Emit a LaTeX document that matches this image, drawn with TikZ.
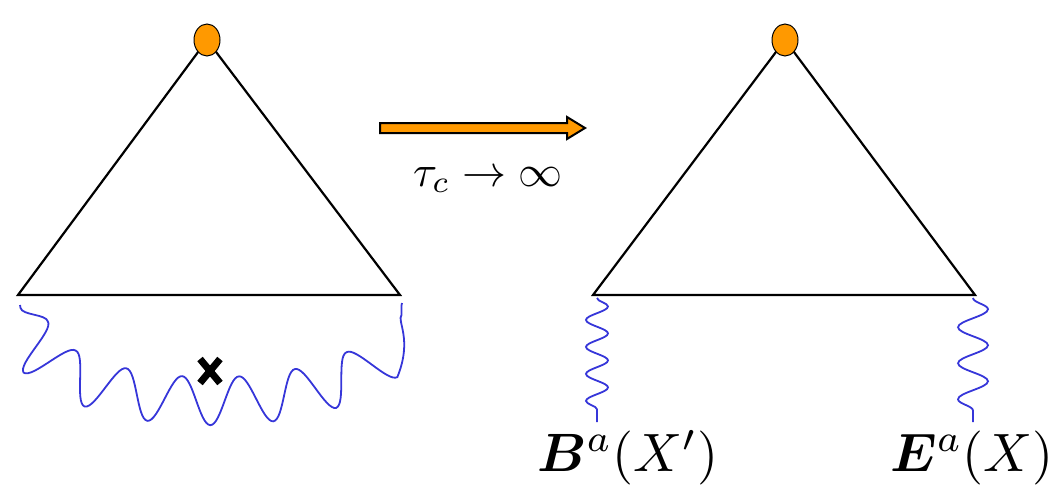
\documentclass[tikz,border=0pt]{standalone}
\usepackage{amsmath,bm,graphicx}
\usetikzlibrary{decorations.pathmorphing,shapes.geometric,calc}
\begin{document}
\begin{tikzpicture}[x=1pt,y=-1pt,
  tri/.style={line width=2.2pt,line join=miter},
  vert/.style={ellipse,fill=orange!80!yellow,draw=black,line width=1pt,minimum width=26,minimum height=32,inner sep=0},
  gluon/.style={draw=blue!75!white!85!black,line width=1.8pt,decorate}]
\useasboundingbox (0,0) rectangle (1053,496);
% left triangle
\coordinate (la) at (207,40); \coordinate (lb) at (18,295); \coordinate (lc) at (400,295);
\draw[tri] (la) -- (lb) -- (lc) -- cycle;
\node[vert] (lv) at (la) {};
% right triangle
\coordinate (ra) at (785,40); \coordinate (rb) at (593,295); \coordinate (rc) at (975,295);
\draw[tri] (ra) -- (rb) -- (rc) -- cycle;
\node[vert] (rv) at (ra) {};
% left gluon
\coordinate (g1) at (20,305); \coordinate (g2) at (402,303);
\draw[gluon,decoration={snake,amplitude=24,segment length=60,pre length=3,post length=3}]
  (g1) .. controls (35,410) and (385,410) .. (g2);
\coordinate (x) at (210,371);
\draw[line width=7pt] ($(x)+(-10,-12)$) -- ($(x)+(10,12)$) ($(x)+(10,-12)$) -- ($(x)+(-10,12)$);
% right gluons
\coordinate (b1) at (597,298); \coordinate (b2) at (597,422);
\draw[gluon,decoration={snake,amplitude=11,segment length=27}] (b1) -- (b2);
\coordinate (e1) at (973,298); \coordinate (e2) at (973,422);
\draw[gluon,decoration={snake,amplitude=15,segment length=36}] (e1) -- (e2);
% arrow
\fill[orange!80!yellow,draw=black,line width=2pt,line join=miter]
  (380,123) -- (567,123) -- (567,117) -- (585,128) -- (567,139) -- (567,133) -- (380,133) -- cycle;
\node (tau) at (488,180) {\scalebox{4.4}{$\tau_c \to \infty$}};
\node (bl) at (628,458) {\scalebox{5.4}{$\bm{B}^a(X')$}};
\node (el) at (972,458) {\scalebox{5.4}{$\bm{E}^a(X)$}};
\end{tikzpicture}
\end{document}
